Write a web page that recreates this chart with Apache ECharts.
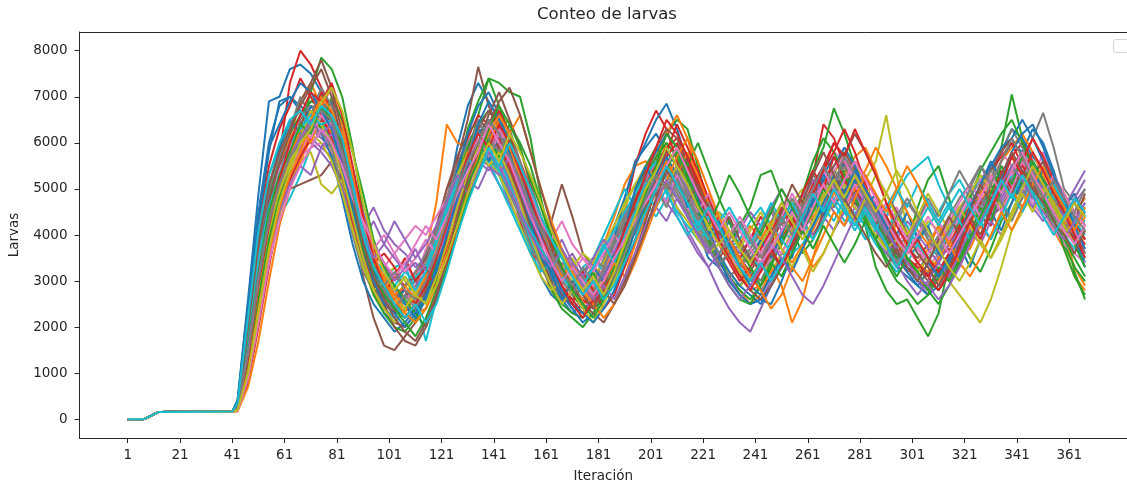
<!DOCTYPE html>
<html>
<head>
<meta charset="utf-8">
<script src="https://cdn.jsdelivr.net/npm/echarts@6/dist/echarts.min.js"></script>
<style>
  html, body { margin: 0; padding: 0; background: #fff; }
  #chart { width: 1127px; height: 486px; }
</style>
</head>
<body>
<div id="chart"></div>
<script>
// ---- tick labels ----
const xTicks = [1, 21, 41, 61, 81, 101, 121, 141, 161, 181, 201, 221, 241, 261, 281, 301, 321, 341, 361];
const yTicks = [0, 1000, 2000, 3000, 4000, 5000, 6000, 7000, 8000];

// ---- shared start (iterations 1..41, all runs identical) ----
const iterEarly = [1, 7, 13, 41];
const larvasEarly = [0, 0, 160, 170];

// ---- sampled iterations for each run ----
const iterLate = [43, 47, 51, 55, 59, 63, 67, 71, 75, 79, 83, 87, 91, 95, 99, 103, 107, 111, 115, 119,
  123, 127, 131, 135, 139, 143, 147, 151, 155, 159, 163, 167, 171, 175, 179, 183, 187, 191, 195, 199,
  203, 207, 211, 215, 219, 223, 227, 231, 235, 239, 243, 247, 251, 255, 259, 263, 267, 271, 275, 279,
  283, 287, 291, 295, 299, 303, 307, 311, 315, 319, 323, 327, 331, 335, 339, 343, 347, 351, 355, 359,
  363, 367];

// ---- runs (larvae counts) ----
const run01 = [420,2600,4900,6900,7000,7600,7700,7500,7100,6400, 5200,4100,3300,2800,2300,2100,2400,2300,2700,3600, 4700,5900,6800,7300,6900,6500,5600,4600,3700,3100, 2700,2500,2800,2600,3100,3400,4200,4800,5600,5900, 6200,5800,5500,4800,4100,3500,3300,3000,2900,3200, 2800,3100,3600,3500,4300,4900,5300,5100,5600,5000, 4700,4200,3700,3300,3100,2900,3200,3000,3400,3800, 4300,4600,5100,5600,6000,5800,6300,6000,5400,4700, 4100,3600];
const run02 = [320,1900,3800,5000,5600,6100,6900,7300,6800,6500, 5400,4200,3300,2700,2400,2500,2300,2800,3600,4700, 6400,6000,5900,6300,6100,5900,5300,4500,3900,3300, 3100,2700,3000,2900,3400,3800,4400,5100,5500,5600, 5400,6000,5700,5100,4400,3800,3600,3000,2800,2500, 2700,3300,2900,2100,2600,3500,4300,4700,5500,5300, 5100,4500,4200,3600,3900,3400,3700,4200,3900,4400, 4600,4300,5000,5200,5700,5400,5200,4600,4100,3700, 3100,2800];
const run03 = [200,800,2200,3600,4800,5600,6300,7100,7850,7600, 7000,5900,4500,3400,2800,2400,2200,2500,2700,3100, 3800,4900,5700,6600,7400,7300,7100,7000,6100,4800, 3800,3200,2700,2400,2600,2900,3500,3900,4600,5300, 5600,6200,6500,6300,5500,4600,4000,3700,4200,4600, 5300,5400,4800,4100,3600,3900,4400,5000,5400,4900, 4200,3300,2800,2500,2600,2200,1800,2300,3400,4500, 4900,4300,5200,5900,7050,6100,5400,5000,4600,4200, 3200,2600];
const run04 = [260,1600,3400,4600,5700,7300,8000,7700,7200,6600, 5600,4400,3600,3200,2700,2300,2900,3100,3500,4100, 5000,5500,6100,6600,6400,5800,5200,4300,3600,3400, 2800,2600,2500,3000,3300,3100,3800,4500,5500,6200, 6700,6300,5600,5000,4500,3900,3400,3100,3300,3000, 3400,3800,4300,4100,4700,5300,6400,6100,5500,5000, 4600,4200,3800,3500,3200,3400,3100,3500,3700,3300, 3900,4400,4200,4900,5300,5600,5000,4800,4400,4300, 4000,3600];
const run05 = [230,1200,2700,3900,4700,5500,5800,6100,5900,5700, 5100,4500,4200,4600,4100,3800,3600,3300,3500,4000, 4300,4800,5300,5600,5400,5700,5200,4700,4200,3900, 3500,3300,3600,3200,2900,3100,3600,4000,4300,4700, 4900,5100,4600,4100,3700,3300,2800,2400,2100,1900, 2400,2900,3300,3800,4300,4600,4400,4900,5200,4700, 4500,4100,4300,3900,3600,3700,3400,3900,4300,4600, 4100,4500,4900,4700,5100,4800,5300,5000,4700,4600, 5000,5400];
const run06 = [250,1400,2900,4100,4900,5300,5800,6500,7000,6300, 5500,4400,3100,2200,1600,1500,1800,2100,2700,3500, 4600,5600,6500,7650,6800,6300,5700,4900,4200,3800, 4300,5100,4400,3600,3300,2900,3200,3700,4200,4600, 4900,4700,5200,4700,4300,4000,3900,3600,3800,3400, 3700,4100,3900,4400,4600,4300,4900,4600,5000,4700, 4400,4700,4300,3900,3700,3500,3800,4200,3800,4100, 4500,4800,4400,4600,5000,5300,4900,4700,4500,4200, 4000,3700];
const run07 = [210,1000,2400,3700,4500,5200,5900,6000,6200,6600, 6000,5000,4000,3300,2900,3100,3400,3000,3700,3900, 4200,4600,5000,5400,5900,6200,5800,5200,4500,3800, 3200,2700,2400,2600,3200,3600,3500,4100,4500,4900, 5200,5500,5100,5300,4900,4400,4100,3700,3500,3700, 3300,3600,3900,4300,4000,4500,4800,5300,5100,5600, 5300,4800,4400,4600,4100,3800,3300,3600,3900,3700, 4200,4000,4400,4800,5100,5500,5200,5800,5300,4800, 4400,4100];
const run08 = [280,1800,3500,4700,5300,5600,6500,6900,7000,6500, 5700,4700,3900,3100,2600,2800,2500,2700,3100,3800, 4700,5500,5900,6300,6000,6700,6200,5400,4600,3700, 3000,3400,3100,2700,2900,3500,4000,4400,4900,5300, 5700,5400,5000,4600,4000,3800,3300,3600,3100,3300, 3000,3500,3800,4500,4700,5000,5200,4700,5100,4600, 4300,4000,3700,4300,4700,4400,3900,3500,4000,4300, 4800,5200,4900,5400,5200,5600,6100,6650,5900,5000, 4700,4200];
const run09 = [240,1400,2800,4200,5100,5500,6100,6400,6200,5800, 5100,4300,3400,2900,2600,2400,2600,3100,3300,3700, 4500,5400,5900,5600,6100,5600,5000,4400,3800,3300, 3100,3300,3000,2700,3100,3400,3900,4600,5100,5400, 5300,5000,4800,4500,4100,3700,3500,3200,2900,3100, 3400,3200,3600,4100,4400,4700,5000,5300,5800,5500, 5200,5600,6600,5300,4100,3800,3500,3300,3000,2700, 2400,2100,2600,3300,4100,4500,4900,5200,4800,4400, 4100,3900];
const run10 = [270,1700,3300,4300,4400,4800,5300,5900,6300,6000, 5600,4500,3700,3200,3000,3300,3400,2600,1700,2600, 3600,4400,5200,5500,5700,5300,4700,4200,3700,3500, 3300,3000,2900,3300,3500,3200,3700,4300,4600,4700, 4400,4800,5100,4700,4200,3900,3600,3800,3500,3700, 4000,3700,4100,3900,4200,4600,4400,4800,4500,4300, 3900,4100,4400,4900,5300,5500,5700,5100,4600,4200, 3900,4300,4600,4900,5300,5100,5500,5200,4900,4700, 4500,4300];
const run11 = [350,2200,4200,5800,6900,7000,6800,6600,6400,6100, 5400,4500,3700,3100,2900,2600,2800,2500,3000,3400, 4200,5000,5700,6200,6500,6100,5600,4900,4100,3500, 2900,2600,2300,2500,2800,3200,3900,4800,5500,6000, 6500,6850,6300,5600,4900,4100,3600,3200,2900,2700, 2500,2900,3300,3800,4200,4800,5300,5700,5500,5100, 4800,4300,3900,3500,3300,3000,2800,3200,3600,4100, 4500,5000,5500,5800,6300,6100,5700,5400,5000,4400, 4000,3400];
const run12 = [190,900,2100,3400,4400,5100,5600,6100,6500,6300, 5900,5200,4300,3500,3000,2700,2500,2300,2400,2900, 3400,4100,4900,5400,5900,6300,6500,5900,5100,4300, 3600,3100,2800,2500,2700,3000,3300,3800,4400,5000, 5700,6200,6600,6100,5300,4700,4100,3600,3200,2800, 2900,3200,3500,3300,3700,4100,4600,4900,5300,5700, 5900,5400,4700,4000,3500,3100,2800,3000,3300,3800, 4200,4700,5100,5600,5900,6200,5800,5300,4700,4000, 3300,2900];
const run13 = [300,1700,3500,4900,5700,6200,6600,6900,6800,6400, 5600,4800,3900,3200,2700,2500,2300,2100,2400,3000, 4100,5200,6300,6900,7400,6800,6200,5100,4200,3400, 2900,2500,2300,2200,2500,2900,3400,4200,4900,5500, 5900,5600,5800,5300,4600,4000,3500,3100,2800,2600, 2900,3300,3900,4500,4900,5400,5900,6750,6200,5500, 4900,4400,3900,3500,3800,4600,5200,5500,4800,4000, 3500,3200,3700,4300,4700,5100,4900,4600,4200,3800, 3300,3000];
const run14 = [180,800,2000,3300,4500,5200,5800,6400,7100,6800, 6100,5200,4300,3700,3300,3100,2900,3000,2700,3200, 3900,4700,5500,6100,5700,6000,5400,4900,4400,4000, 3500,3200,2800,2600,2400,2600,3100,3700,4300,5100, 5500,5900,6100,5700,5200,4600,4100,3800,3400,3100, 3300,3600,4000,4200,4600,5100,5500,6000,5700,5200, 4700,4500,4100,3700,3400,3200,3500,3100,3600,3900, 4300,4700,5000,5300,5700,6000,5600,5200,4800,4500, 4100,3800];
const run15 = [260,1500,3100,4300,5000,5600,5900,6300,6100,5900, 5300,4600,3800,3100,2600,2400,2700,2900,3200,3800, 4500,5100,5500,5900,6200,5800,5300,4700,4000,3400, 3000,2700,2500,2300,2700,3200,3600,4100,4700,5200, 5600,5300,5500,5000,4400,3900,3400,3100,2700,2500, 2600,3000,3400,3900,4500,4200,4600,5000,4700,5100, 4800,4400,4000,3600,3300,3000,2700,3100,3500,3900, 4400,4600,4300,4800,5200,4900,5300,5600,5100,4700, 4300,4700];
const run16 = [220,1100,2500,3800,4600,5000,5100,5200,5300,5600, 5200,4600,3900,3300,2900,2600,2900,3200,3500,4200, 5000,5700,6200,6500,6300,5900,5400,4800,4100,3600, 3200,2800,2600,2900,2700,3000,3500,4000,4600,5000, 5300,5100,4800,4400,4000,3700,3500,3800,3500,3200, 3600,3900,4300,4700,4400,4900,5200,5000,5300,4900, 4600,4300,4000,3800,3500,3300,3000,2800,3100,3500, 4000,4400,4700,5000,5400,5100,4800,5200,4900,4500, 4200,4500];
const run17 = [240,1300,2800,4000,4800,5300,5700,5900,6000,5800, 5400,4800,4100,3600,3300,3600,3900,4200,4000,4400, 4800,5300,5700,6000,5800,5500,5100,4600,4100,3600, 3100,2900,3200,3500,3300,3000,3400,3900,4400,4800, 5000,5300,4900,4600,4300,4100,3800,3500,3300,3500, 3200,3500,3800,4200,4600,4900,5400,5800,5600,5200, 4900,4500,4100,3800,4100,3700,3400,3800,4100,4500, 4900,5200,5500,5800,5500,5100,4700,4400,4100,3800, 3600,3400];
const run18 = [300,2000,3800,5100,5800,6400,6700,6600,6300,5900, 5000,4000,3200,2800,2500,2400,2700,3000,3400,4000, 4800,5500,6000,6400,6200,5700,5100,4500,3900,3300, 2900,2700,2900,2600,2800,3200,3800,4300,4800,5100, 5400,5700,5200,4800,4200,3800,3400,3100,3300,3600, 3900,4300,4700,4400,4900,5300,5000,5400,5100,4600, 4300,3900,3600,3300,3500,3200,3600,4000,4400,4800, 5100,5500,5200,5800,6300,5900,5500,5000,4600,4300, 3900,3600];
const run19 = [210,1000,2300,3500,4400,5100,5600,5800,5100,4900, 5200,4700,4000,3400,3100,3300,3000,2700,3000,3600, 4300,5000,5600,6100,5900,5400,4900,4500,3900,3400, 3100,3300,3500,3000,2800,3000,3400,3800,4200,4600, 5000,5400,5200,4700,4300,3900,4100,3800,3400,3700, 4100,4500,4300,4700,5000,4600,4300,4700,5100,4800, 4400,4100,3700,3400,3600,3900,4300,4100,3800,4200, 4600,4300,4800,5100,4800,5200,5000,4600,4900,4500, 4200,3900];
const run20 = [310,2000,3700,4500,5200,5800,6100,6300,6500,6300, 5700,4700,3700,2900,2400,2200,2600,3100,3300,3700, 4300,5000,5400,5700,6100,5700,5100,4500,3900,3400, 3000,3200,3400,3100,3500,4000,4500,5000,4600,5100, 5400,4900,4500,4200,3900,4100,4500,4300,3900,3500, 3300,3700,4100,4500,4800,5200,5000,4700,4300,4500, 4200,3800,3500,3200,3400,3800,4200,4500,4900,5200, 4800,5300,5000,4700,4400,4800,5100,4700,4300,4000, 3700,3500];
const run21 = [400,2500,4500,6000,6800,7000,6700,6400,6200,5700, 4800,3800,3000,2500,2200,1900,2100,2400,2900,3600, 4500,5400,6200,6800,7100,6600,6000,5200,4400,3700, 3100,2700,2400,2100,2300,2700,3300,4100,4800,5400, 5800,6200,5900,5400,4800,4100,3500,3000,2700,2500, 2600,2500,3000,3600,4100,4700,5200,5500,5900,5500, 5000,4500,4000,3600,3200,2900,2700,2900,3300,3800, 4400,5000,5500,5900,6100,6500,6100,5600,5000,4500, 3900,3300];
const run22 = [170,700,1700,3000,4200,5000,5600,6300,6800,7200, 6400,5300,4200,3300,2900,2700,2400,2600,3000,3400, 4000,4600,5300,5900,6000,6400,5800,5300,4600,4000, 3500,3100,2800,2600,2900,3300,3600,4000,4500,4900, 5100,5500,5900,5600,5100,4500,3900,3500,3200,3000, 3200,3600,3400,3900,4200,4400,4700,5100,4800,5200, 4900,4600,4200,3900,3700,3400,3200,3500,3800,4200, 4500,4900,5300,5100,5400,5700,5400,5000,4600,4300, 4000,4400];
const run23 = [230,1300,2800,4100,5100,5800,6200,6500,6800,6300, 5500,4400,3400,2700,2300,2000,1900,2200,2700,3400, 4400,5200,5900,6400,6700,6400,5800,5000,4200,3500, 2800,2400,2200,2000,2300,2700,3300,4000,4700,5300, 5700,6000,5700,5200,4500,3900,3300,2900,2600,2500, 2900,3400,3800,4300,4900,5600,6100,5800,5300,4800, 4400,3900,3400,3000,2800,2500,2700,3100,3600,4200, 4800,5400,5800,6200,6500,6000,5500,5000,4400,3700, 3100,2700];
const run24 = [250,1500,3200,4400,5000,5200,5700,6100,6500,6200, 5600,4800,3900,3400,3600,3300,2800,2500,2700,3100, 3700,4400,5100,5700,6300,6100,5500,5000,4300,3700, 3300,2900,2600,2300,2500,2800,3200,3600,4200,4800, 5200,5700,6000,5500,4900,4300,3800,3400,3000,3300, 3700,4100,4500,4200,4600,5100,5400,5800,6300,5800, 5100,4600,4200,3800,3500,3300,3100,3400,3800,4200, 4600,5000,5400,5700,6000,5500,5200,4900,4600,4200, 3900,3800];
const run25 = [280,1700,3300,4500,5300,5800,6200,6000,5800,5500, 5000,4400,3900,4300,3800,3500,3200,3400,3100,3500, 4100,4800,5300,5700,5500,5100,4700,4300,4600,4200, 3800,3500,3300,3000,3300,3700,4100,4500,4200,4600, 5000,4700,4400,4000,3600,3300,3600,3900,3600,3900, 4200,4500,4100,4500,4800,5200,4900,4500,4200,4600, 4300,3900,3600,3900,4300,4000,3700,3400,3800,4100, 4400,4800,4500,4900,5200,4900,4600,4300,4700,4400, 4700,5000];
const run26 = [290,1900,3600,4800,5500,6000,6400,6800,6700,6400, 5500,4500,3600,2900,2400,2100,2000,2300,2800,3500, 4300,5100,5800,6300,6700,6400,5700,4900,4100,3500, 3000,2700,2500,2300,2500,2900,3500,4200,4800,5400, 5900,6300,6100,5600,5000,4400,3900,3500,3100,2800, 2600,2900,3300,3700,4200,4600,5100,5500,5800,5400, 4900,4400,4000,3600,3300,3100,2900,3200,3600,4000, 4500,5000,5400,5800,6100,5700,5300,5600,5100,4700, 4300,3900];
const run27 = [200,900,2200,3500,4600,5300,5800,6300,6600,6400, 6000,5100,4200,3500,3000,2800,2600,2800,3100,3500, 4000,4600,5100,5500,5900,6300,6000,5500,4800,4100, 3500,3100,2800,3100,2900,3300,3700,4100,4500,4900, 5300,5600,5400,5100,4700,4300,3900,3500,3300,3000, 3400,3800,3600,4000,4400,4800,5100,5400,5700,5300, 5000,4700,4300,4000,3700,3400,3600,3900,4300,4700, 5100,4800,5200,5500,5300,5700,5400,5000,4600,4400, 4100,3700];
const run28 = [260,1600,3200,4400,5100,5700,6100,6300,6200,6000, 5300,4300,3400,2800,2500,2700,2900,3200,3600,4100, 4700,5200,5600,5900,5700,5400,4900,4400,3800,3300, 2900,3100,2800,3200,3500,3300,3800,4300,4900,5200, 5000,5300,4900,4500,4100,3700,3400,3600,3800,3500, 3800,4200,4600,4300,4700,5000,4700,5100,5500,5100, 4800,4400,4100,3700,4000,4300,3900,3600,4100,4400, 4700,5000,5400,5100,5500,5800,5400,5000,4600,4900, 4500,4800];
const run29 = [230,1200,2700,4000,4900,5600,6000,6200,6000,5600, 4900,4100,3300,2800,3000,2600,2400,2700,3100,3800, 4600,5300,5800,6000,5600,5300,4800,4200,3600,3100, 2800,3000,3300,3600,3400,3800,4200,4700,5100,5500, 5200,5000,4600,4300,3900,3600,3800,3500,3200,3000, 3300,3700,4000,4400,4800,4500,4900,5200,4900,4600, 4300,4000,3700,3900,3500,3200,3500,3800,4200,4600, 4900,5300,5000,4600,4900,5300,4900,4500,4200,4000, 4300,4600];
const run30 = [330,2100,4000,5300,5900,6400,6300,6500,6400,6200, 5400,4400,3500,3000,2700,2900,3200,3000,3300,3900, 4600,5200,5600,5900,5600,5100,4600,4100,3600,3200, 3400,3100,2800,3000,3300,3700,4100,4500,4900,5300, 5600,5200,4800,4400,4100,4400,4000,3700,3900,4300, 4600,4200,3900,3600,3800,4200,4600,4300,4800,5100, 4700,4400,4100,4500,4200,3800,3500,3700,4000,4400, 4700,4400,4800,5200,4900,5300,5600,5200,4800,4600, 4300,4500];
const run31 = [300,1800,3600,5000,5900,6500,6200,6800,6500,6900, 6000,5100,3900,3300,2600,2900,2500,2200,2600,3300, 4000,4900,5500,6100,5600,6200,5800,5000,4300,3500, 3200,2600,3000,2700,3300,3000,3600,4100,5000,5500, 5100,5700,5300,4600,4800,4200,3900,4300,3700,3400, 3900,3500,4000,4600,4200,4800,4400,5100,4700,5200, 4600,4900,4300,4000,4500,3900,4200,3600,3400,3800, 3300,3900,4500,4100,4700,5200,4800,5500,5100,4600, 4900,4400];
const run32 = [250,1400,3000,4300,5300,5700,6300,6000,6600,6200, 5800,4900,4100,3500,3100,2700,2900,2600,3100,3700, 4400,5100,5800,5400,6000,6500,5900,5300,4600,4100, 3600,3100,3400,2900,2600,3000,3400,3100,3800,4400, 5100,5600,5200,5800,5300,4700,4400,4000,3800,4200, 3900,4300,3700,3400,3800,3300,3600,4100,4600,5000, 5400,5900,5500,5000,4500,4100,3800,4200,3900,3500, 3700,4200,3900,4500,5000,4600,5100,4700,5300,4900, 4500,4800];
const run33 = [220,1200,2600,3900,4800,5400,6100,6700,6300,7000, 6500,5800,4900,3900,3300,2900,2600,2300,2000,2600, 3300,4000,4800,5300,6100,5700,6400,6000,5500,4700, 4000,3500,3100,2800,3200,2600,3000,3500,4100,4600, 5000,5400,5900,5500,6000,5400,4800,4300,3700,3300, 2900,3400,3100,3600,4100,4500,5000,4700,5300,4800, 4300,3900,4400,4000,3500,3200,2800,3300,3000,3500, 4000,4600,4300,5000,5500,5100,5600,5200,4700,4200, 3800,3300];
const run34 = [340,2100,4100,5500,6300,6800,7400,7000,6600,6100, 5300,4300,3500,3000,2700,3100,3500,3000,3300,2800, 3400,4200,5000,5800,6300,6700,6200,5600,5000,4400, 3800,3300,2900,3200,2800,2400,2700,3300,3900,4500, 5300,5800,6400,5900,5400,4800,4300,3900,3500,3900, 4400,4000,4600,4200,4900,5400,5000,5700,5200,4800, 5300,4800,4400,4000,3600,3900,3500,3200,3600,4100, 4600,4200,4800,5400,5000,5600,6100,5700,5200,4800, 4300,3900];
const run35 = [190,900,2300,3600,4500,5100,5500,5300,5900,6200, 5700,5200,4500,3800,3400,3000,3300,3700,3200,3600, 4100,4700,5200,5000,5500,5300,5700,5100,4500,4000, 3500,3900,3400,3100,3500,3900,3600,4000,4500,4200, 4600,4300,4800,4400,4000,3600,4000,3700,4100,4500, 4200,4600,5000,4600,4300,4000,4400,4100,4500,4900, 4500,4100,3800,3400,3000,2700,3000,3400,3100,3600, 4100,3800,4300,4000,4500,5000,4600,5100,4700,4400, 4800,5200];
const run36 = [280,1700,3400,4700,5600,6200,6900,7300,7800,7200, 6200,5000,3800,3000,2500,2000,1700,1600,2000,2600, 3500,4500,5400,6000,6600,7100,6500,5900,5100,4400, 3700,3200,2900,2500,2300,2100,2500,3000,3600,4300, 5000,5500,5200,5700,5100,4500,4000,4400,3900,3500, 3200,3600,3300,3800,4300,3900,4500,5100,5700,6200, 5800,5300,4900,4500,4000,3600,3300,2900,3300,3800, 4400,4000,4600,5200,4900,5400,5100,4700,5000,4600, 4300,4900];
const run37 = [260,1600,3300,4500,5400,5900,6400,6100,6600,6300, 5800,4900,4200,3700,4000,3600,3200,3500,3900,3600, 4200,4900,5600,6100,5700,6200,6000,5400,4900,4300, 3900,4300,3800,3500,3200,3600,4000,3700,4200,4700, 5100,4700,5300,4900,4500,4900,4400,4000,4400,4000, 3600,4000,4400,4900,4500,5000,5400,5000,4600,5100, 4700,4300,4700,4300,3900,4300,4700,4300,3900,4400, 4800,4400,4900,4500,5000,5600,5200,4800,5300,4900, 4500,4200];
const run38 = [310,1900,3700,5000,5700,6300,7000,6600,7200,6800, 5900,4800,3800,3100,2800,2400,2700,2400,2900,3500, 4300,5100,5700,6500,6100,5800,6300,5600,4800,4200, 3500,3000,2700,3100,2700,3300,3900,4400,4000,4500, 5000,4600,5200,4800,4300,4700,4200,3800,3300,3700, 4100,4600,4200,4800,4400,4900,5500,5100,4700,4300, 4700,4200,3800,3400,3800,4300,4800,4400,4900,5400, 5000,4600,5100,4700,4300,4800,5300,4900,4400,4100, 4500,5000];
const run39 = [240,1300,2900,4200,5000,5500,6100,6700,6400,6000, 5300,4400,3500,2800,2400,2100,2400,2800,2500,3100, 3800,4600,5300,5900,5500,5800,5300,4700,4000,3400, 2900,2500,2800,2400,2100,2500,3000,3600,4200,4800, 5300,5000,5500,5100,4600,4100,4500,4100,3700,4100, 4500,4100,3700,3300,3700,3200,3600,4100,4700,4300, 4800,5300,4900,4400,4000,4400,4900,4500,4100,4600, 4200,3800,3500,3900,4400,4900,4500,5000,4600,4200, 3800,4100];
const run40 = [290,1800,3500,4600,5300,6000,6300,6600,6400,6500, 5900,5000,4100,3500,3200,2800,3100,2800,3200,3800, 4500,5100,5700,5300,5800,5400,5000,4500,4100,3700, 3300,3600,3200,2900,3300,3800,3400,4000,4500,4900, 4600,5000,4400,4000,4300,3900,4300,4600,4200,3800, 4200,4700,4300,4700,4300,3900,4300,4800,4500,4100, 4500,4100,4600,5000,4600,5100,4700,4300,4700,4300, 3900,4300,3900,4400,4900,4500,5000,4600,5100,4700, 4300,4000];
const run41 = [380,2400,4400,5900,6400,6900,7300,7100,6700,6300, 5500,4600,3700,3000,2500,2300,2000,2300,2700,3200, 4000,4800,5600,6400,6900,6500,6000,5400,4700,4000, 3300,2800,2500,2300,2100,2400,2800,3400,4100,4700, 5300,5900,5500,5100,4600,4000,4300,3800,3300,2900, 2700,3100,3500,3200,3700,4200,4700,5300,4900,5400, 5000,4600,4200,3700,3300,3000,3400,3100,3500,4000, 4600,5100,5600,5200,5800,6200,6400,5900,5300,4800, 4200,3700];
const run42 = [210,1000,2400,3600,4600,5300,5800,6500,7000,6700, 6200,5300,4400,3600,3000,2600,2300,2100,2400,2900, 3600,4400,5100,5700,6200,6600,6200,6600,5800,5000, 4300,3700,3200,2800,2500,2200,2500,2900,3400,4000, 4600,5200,5700,6100,5600,5000,4400,3900,3500,3100, 2800,2400,2700,3300,3000,3500,4000,4500,4200,4800, 5300,4900,4500,5000,5500,5100,4600,4200,3800,3400, 3100,3500,4000,4500,4100,4600,5100,5500,5000,4600, 4100,4600];
const run43 = [270,1600,3200,4500,5300,5800,6400,6200,6800,6500, 5900,4800,3700,3100,2700,2400,2100,1800,2200,2800, 3500,4300,5100,5600,6300,6800,6400,5900,5200,4600, 3900,3300,2800,2500,2200,2600,3100,3700,4300,4900, 5500,6200,5900,5300,4700,4200,4700,5300,4900,4400, 4000,4500,5000,4600,4100,3700,4200,3800,3400,3800, 4300,3900,3500,3100,3500,3200,2800,2500,2900,3400, 3900,4400,4900,5500,5100,5700,5300,4800,4300,3900, 3500,3100];
const run44 = [230,1300,2900,4200,5200,6000,6600,7100,6900,7300, 6600,5500,4400,3500,2900,2500,2200,2500,2900,3500, 4200,5000,5700,6200,5900,6400,6000,5400,4800,4100, 3400,2900,2500,2200,2600,3000,3500,4100,4700,5300, 5900,6500,6200,5700,5100,4500,3900,3500,3100,2800, 3200,3700,3300,3800,4400,4900,5400,6000,5700,6300, 5800,5300,4700,4200,3800,3400,3100,2800,3200,3700, 4300,3900,4500,5100,5700,5300,5800,5400,4900,4500, 4000,3500];
const run45 = [250,1500,3100,4300,5100,5700,6100,6500,6200,6400, 5700,4800,4000,3500,3800,4300,3900,3500,3800,4200, 4700,5300,4900,5400,5800,5500,5000,4500,4000,3600, 3300,3700,3300,2900,2600,2900,2600,3100,3600,4200, 4700,5200,4800,4400,4000,3700,3300,2900,2600,2900, 3300,3800,3500,3100,2700,2500,2900,3400,3900,4400, 4900,4500,4100,3700,3400,3100,2900,2600,2900,3300, 3800,4300,4700,5100,5500,5200,4800,4500,4200,3900, 4300,4700];
const run46 = [320,2000,3800,5100,5800,6300,6800,7200,7600,7000, 6000,4800,3800,3100,2600,2200,1900,1700,2100,2700, 3500,4400,5200,5800,6400,6900,7200,6600,5800,5000, 4200,3600,3100,2700,2400,2800,2500,2900,3500,4100, 4800,5400,5100,4700,5100,4600,4100,3700,3300,3000, 3400,3900,4500,5100,4700,5300,5800,5300,4800,4400, 4000,3600,3300,3700,3300,3000,3400,3900,4400,4000, 4500,5100,4700,5300,5800,5400,5000,4700,4300,4000, 3600,4100];
const run47 = [200,900,2100,3400,4300,5000,5500,5900,6300,6000, 5500,4800,4300,3800,3400,3100,3400,3800,4200,3900, 4400,4900,5400,5800,6400,6000,5600,5000,4400,3900, 3400,3000,3300,3000,2700,3000,3500,3900,4300,4700, 5100,5500,5900,5400,4900,4500,4100,4500,4100,3700, 3400,3700,4100,4500,4100,4600,5100,4700,5200,5600, 5200,4800,4300,3900,3600,4000,4400,4000,3600,4000, 4400,4800,5300,4900,5400,5800,5300,4900,4500,4100, 3800,4200];
const run48 = [240,1400,3000,4300,5100,5700,6000,6400,6700,6500, 5800,4900,4000,3300,2900,3200,2800,2600,3000,3600, 4300,5000,5600,6000,6500,6200,5700,5200,4600,4100, 3600,3200,2900,3300,3000,2700,3100,3600,4200,4800, 5300,5000,5400,4900,4400,4000,3600,3900,4300,3900, 3500,3900,4400,4000,4600,5000,5500,5100,5700,5300, 4800,4400,4000,4400,4800,4400,4000,3700,4100,4500, 5000,5500,5100,5600,6100,5700,5200,4800,5200,4800, 4400,4100];
const run49 = [200,1000,2300,3700,4700,5400,6000,6300,6900,7200, 6700,5800,4700,3800,3200,2800,3100,2700,2500,2900, 3500,4200,4900,5500,6000,5600,6200,5800,5300,4700, 4100,3600,3100,2800,3100,2700,3200,3800,4400,5000, 5400,5900,5500,5100,4600,4200,3800,4100,3700,3400, 3800,4200,4700,4300,3900,4300,4800,5200,4800,5300, 4900,4500,4900,5400,5000,4500,4100,3700,3300,3000, 3400,3900,3500,4000,4500,5000,5500,5100,4700,4300, 4700,4400];
const run50 = [350,2200,4100,5300,6000,6500,6700,6400,6800,6600, 6100,5100,4000,3300,2900,2500,2200,2500,2100,2500, 3200,4000,4700,5300,5900,5500,6000,5500,5000,4400, 3900,3500,3100,2700,3000,2600,2900,3400,3900,4500, 5000,5500,5100,4700,4200,4600,4200,3700,3300,3000, 3400,3000,3400,3900,4400,4900,4500,5000,4600,4200, 4600,4200,3800,3300,3700,4200,4600,4200,4600,5000, 4600,4200,4700,5200,4800,5300,4900,4400,4000,4400, 4800,4500];

const runs = [run01, run02, run03, run04, run05, run06, run07, run08, run09, run10,
  run11, run12, run13, run14, run15, run16, run17, run18, run19, run20,
  run21, run22, run23, run24, run25, run26, run27, run28, run29, run30,
  run31, run32, run33, run34, run35, run36, run37, run38, run39, run40,
  run41, run42, run43, run44, run45, run46, run47, run48, run49, run50];

const palette = ['#1f77b4', '#ff7f0e', '#2ca02c', '#d62728', '#9467bd',
  '#8c564b', '#e377c2', '#7f7f7f', '#bcbd22', '#17becf'];

const chart = echarts.init(document.getElementById('chart'), null, { renderer: 'canvas' });

const series = runs.map((vals, r) => ({
  type: 'line',
  name: 'run' + (r + 1),
  data: iterEarly.map((x, i) => [x, larvasEarly[i]]).concat(iterLate.map((x, i) => [x, vals[i]])),
  showSymbol: false,
  symbol: 'none',
  lineStyle: { width: 2, color: palette[r % 10] },
  itemStyle: { color: palette[r % 10] },
  emphasis: { disabled: true },
  silent: true,
  animation: false
}));

const textColor = '#262626';
const axisColor = '#262626';
const font = 'DejaVu Sans';
const xMin = -17.43, xMax = 383.05;

chart.setOption({
  animation: false,
  backgroundColor: '#ffffff',
  textStyle: { fontFamily: font },
  grid: { left: 79.5, top: 32, bottom: 48, right: 0, show: false, containLabel: false, outerBoundsMode: 'none' },
  xAxis: [{
    type: 'value',
    min: xMin, max: xMax,
    name: 'Iteración',
    nameLocation: 'middle',
    nameGap: 31,
    nameTextStyle: { fontFamily: font, fontSize: 13.5, color: textColor },
    axisLine: { show: true, onZero: false, lineStyle: { color: axisColor, width: 1 } },
    axisTick: { show: true, length: 5, lineStyle: { color: axisColor }, customValues: xTicks },
    axisLabel: { show: true, fontFamily: font, fontSize: 13.5, color: textColor, margin: 10, customValues: xTicks, formatter: v => String(v) },
    splitLine: { show: false }
  }, {
    type: 'value',
    position: 'top',
    min: xMin, max: xMax,
    axisLine: { show: true, onZero: false, lineStyle: { color: axisColor, width: 1 } },
    axisTick: { show: false },
    axisLabel: { show: false },
    splitLine: { show: false }
  }],
  yAxis: {
    type: 'value',
    min: -406, max: 8406,
    name: 'Larvas',
    nameLocation: 'middle',
    nameGap: 58,
    nameTextStyle: { fontFamily: font, fontSize: 13.5, color: textColor },
    axisLine: { show: true, onZero: false, lineStyle: { color: axisColor, width: 1 } },
    axisTick: { show: true, length: 5, lineStyle: { color: axisColor }, customValues: yTicks },
    axisLabel: { show: true, fontFamily: font, fontSize: 13.5, color: textColor, margin: 12, customValues: yTicks, formatter: v => String(v) },
    splitLine: { show: false }
  },
  graphic: [
    { type: 'text', x: 607, y: 15, style: { text: 'Conteo de larvas', font: '16.5px "DejaVu Sans"', fill: textColor, align: 'center', verticalAlign: 'middle' }, silent: true },
    { type: 'rect', x: 1113.5, y: 39.5, shape: { x: 0, y: 0, width: 24, height: 13, r: 2.5 }, style: { fill: '#ffffff', stroke: '#d5d5d5', lineWidth: 1 }, silent: true }
  ],
  series: series
});
</script>
</body>
</html>
